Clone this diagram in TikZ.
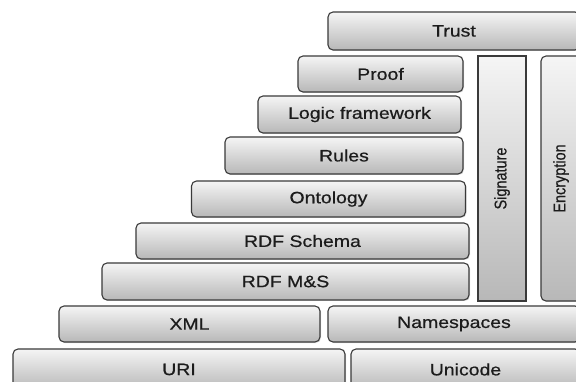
\documentclass[tikz,border=0pt]{standalone}
\usepackage{fontspec}
\setmainfont{Liberation Sans}
\newfontfamily\widefont{Liberation Sans}[FakeStretch=1.18,FakeBold=0.6]
\newfontfamily\narrowfont{Liberation Sans}[FakeStretch=0.85,FakeBold=0.6]
\usetikzlibrary{shadows}
\definecolor{edge}{HTML}{3A3A3A}
\definecolor{txt}{HTML}{1C1C1C}
\tikzset{
  layer/.style={draw=edge, line width=1.1pt, rounded corners=5pt,
    top color=white!96!black, bottom color=white!72!black,
    drop shadow={opacity=0.25, shadow xshift=1pt, shadow yshift=-1pt},
    text=txt, font=\widefont\fontsize{16.5}{19}\selectfont, inner sep=0pt},
  vbar/.style={layer, font=\narrowfont\fontsize{17}{20}\selectfont}
}
\begin{document}
\begin{tikzpicture}[x=1pt,y=-1pt]
\useasboundingbox[fill=white] (0,0) rectangle (576,382);
\node[layer, minimum width=252, minimum height=38] (trust) at (454,31) {Trust};
\node[layer, minimum width=165, minimum height=36] (proof) at (380.5,74) {Proof};
\node[layer, minimum width=203, minimum height=37] (logic) at (359.5,114.5) {Logic framework};
\node[layer, minimum width=238, minimum height=37] (rules) at (344,155.5) {Rules};
\node[layer, minimum width=274, minimum height=36] (onto) at (328.5,199) {Ontology};
\node[layer, minimum width=333, minimum height=36] (rdfs) at (302.5,241) {RDF Schema};
\node[layer, minimum width=367, minimum height=37] (rdfms) at (285.5,281.5) {RDF M\&S};
\node[layer, minimum width=261, minimum height=36] (xml) at (189.5,324) {XML};
\node[layer, minimum width=252, minimum height=36] (ns) at (454,324) {Namespaces};
\node[layer, minimum width=332, minimum height=41] (uri) at (179,369.5) {URI};
\node[layer, minimum width=229, minimum height=41] (uni) at (465.5,369.5) {Unicode};
\node[vbar, sharp corners, minimum width=48, minimum height=245] (sig) at (502,178.5) {\rotatebox{90}{Signature}};
\node[vbar, minimum width=40, minimum height=245] (enc) at (561,178.5) {\rotatebox{90}{Encryption}};
\end{tikzpicture}
\end{document}
